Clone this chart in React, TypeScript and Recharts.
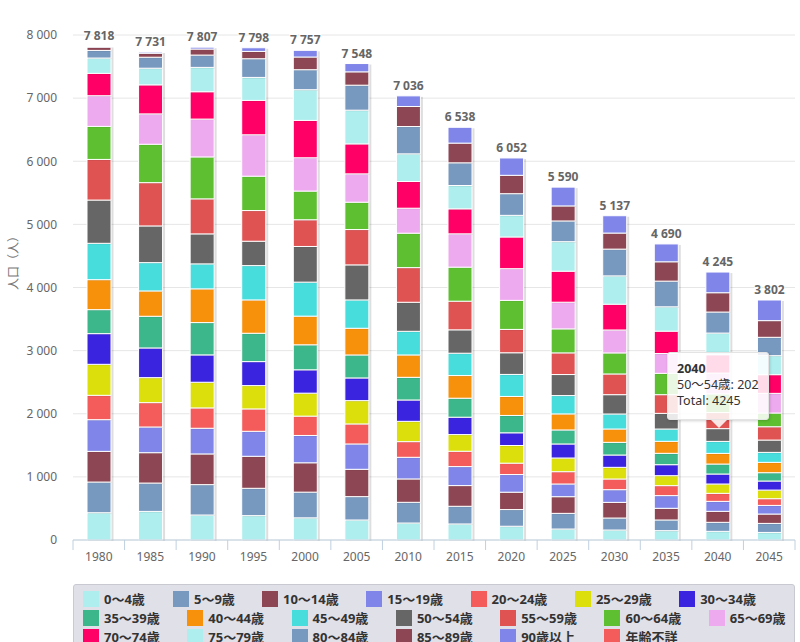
import React from 'react';
import { BarChart, Bar, XAxis, YAxis, CartesianGrid, Tooltip, Legend, LabelList } from 'recharts';

const years = ['1980', '1985', '1990', '1995', '2000', '2005', '2010', '2015', '2020', '2025', '2030', '2035', '2040', '2045'];

const ageGroups = [
  '0～4歳', '5～9歳', '10～14歳', '15～19歳', '20～24歳', '25～29歳', '30～34歳',
  '35～39歳', '40～44歳', '45～49歳', '50～54歳', '55～59歳', '60～64歳', '65～69歳',
  '70～74歳', '75～79歳', '80～84歳', '85～89歳', '90歳以上', '年齢不詳',
];

const colors = [
  '#aeeeee', '#7798bf', '#8d4654', '#8085e9', '#f45b5b', '#dddf0d', '#3b24e0',
  '#3cb68b', '#f7910b', '#48dddd', '#666666', '#df5353', '#5ebf31', '#eeaaee',
  '#ff0066', '#aeeeee', '#7798bf', '#8d4654', '#8085e9', '#f45b5b',
];

const age0to4 = [432, 453, 396, 386, 351, 317, 269, 254, 218, 174, 158, 148, 137, 120];
const age5to9 = [486, 449, 481, 433, 407, 370, 328, 280, 264, 248, 190, 169, 143, 143];
const age10to14 = [486, 481, 486, 507, 465, 433, 370, 328, 275, 264, 248, 185, 174, 148];
const age15to19 = [502, 407, 407, 396, 433, 401, 343, 301, 280, 201, 201, 201, 158, 137];
const age20to24 = [386, 386, 322, 354, 306, 317, 248, 243, 180, 195, 169, 158, 127, 106];
const age25to29 = [491, 396, 407, 370, 364, 370, 322, 264, 280, 217, 185, 158, 148, 137];
const age30to34 = [486, 470, 433, 380, 370, 359, 338, 275, 201, 222, 195, 174, 158, 143];
const age35to39 = [380, 502, 512, 449, 396, 364, 359, 301, 275, 222, 201, 180, 158, 132];
const age40to44 = [475, 401, 534, 528, 454, 423, 354, 359, 301, 254, 211, 190, 169, 164];
const age45to49 = [576, 449, 396, 544, 539, 449, 375, 354, 349, 291, 238, 195, 190, 158];
const age50to54 = [685, 581, 475, 386, 565, 555, 460, 370, 343, 333, 306, 248, 202, 195];
const age55to59 = [644, 686, 555, 486, 423, 560, 549, 454, 370, 343, 328, 296, 255, 211];
const age60to64 = [523, 608, 664, 544, 454, 433, 545, 539, 460, 380, 333, 338, 295, 217];
const age65to69 = [486, 481, 600, 656, 528, 449, 396, 528, 502, 423, 364, 314, 330, 312];
const age70to74 = [354, 460, 433, 545, 592, 475, 423, 396, 502, 491, 408, 354, 291, 296];
const age75to79 = [243, 264, 386, 364, 486, 534, 438, 370, 343, 468, 449, 386, 343, 301];
const age80to84 = [121, 174, 195, 296, 317, 396, 433, 359, 343, 328, 424, 407, 333, 291];
const age85to89 = [52, 63, 95, 116, 201, 211, 317, 312, 291, 238, 254, 306, 306, 264];
const age90plus = [10, 20, 30, 58, 106, 132, 169, 251, 275, 298, 275, 283, 328, 327];
const ageUnknown = [0, 0, 0, 0, 0, 0, 0, 0, 0, 0, 0, 0, 0, 0];

const seriesValues = [
  age0to4, age5to9, age10to14, age15to19, age20to24, age25to29, age30to34,
  age35to39, age40to44, age45to49, age50to54, age55to59, age60to64, age65to69,
  age70to74, age75to79, age80to84, age85to89, age90plus, ageUnknown,
];

const yTicks = [0, 1000, 2000, 3000, 4000, 5000, 6000, 7000, 8000];

const tooltipYearIndex = 12;
const tooltipSeriesIndex = 10;

const data = years.map((year, i) => {
  const row: Record<string, any> = { year };
  let total = 0;
  seriesValues.forEach((vals, s) => {
    row['s' + s] = vals[i];
    total += vals[i];
  });
  row.total = total;
  return row;
});

const fmt = (n: number) => String(n).replace(/\B(?=(\d{3})+(?!\d))/g, ' ');

const CHART_W = 800;
const CHART_H = 642;
const MARGIN = { top: 35, right: 5, bottom: 72, left: 0 };
const Y_AXIS_W = 73;
const PLOT_W = CHART_W - MARGIN.left - MARGIN.right - Y_AXIS_W;
const BAND = PLOT_W / years.length;

const FONT = "'Noto Sans', 'Noto Sans CJK JP', sans-serif";

const XTick = (props: any) => {
  const { x, y, payload, index } = props;
  const left = x - BAND / 2;
  const right = x + BAND / 2;
  return (
    <g>
      <line x1={left} x2={left} y1={y} y2={y + 10} stroke="#c0d0e0" strokeWidth={1} />
      {index === years.length - 1 && (
        <line x1={right} x2={right} y1={y} y2={y + 10} stroke="#c0d0e0" strokeWidth={1} />
      )}
      <text x={x} y={y + 21} textAnchor="middle" fill="#666" fontSize={12}>
        {payload.value}
      </text>
    </g>
  );
};

const Segment = (props: any) => {
  const { x, y, width, height, fill } = props;
  if (!height || height <= 0) return null;
  return (
    <g>
      <rect x={x + 1} y={y + 1} width={width + 1.5} height={height} fill="rgba(0,0,0,0.13)" />
      <rect x={x} y={y} width={width} height={height} fill={fill} stroke="#ffffff" strokeWidth={1} />
    </g>
  );
};

const TotalLabel = (props: any) => {
  const { x, y, width, index } = props;
  const total = data[index].total;
  return (
    <text
      x={x + width / 2}
      y={y - 6}
      textAnchor="middle"
      fontSize={12}
      fontWeight="bold"
      fill="#666"
      stroke="#ffffff"
      strokeWidth={2}
      paintOrder="stroke"
    >
      {fmt(total)}
    </text>
  );
};

const YLabel = () => {
  const x = 13;
  const y = 260;
  return (
    <text x={x} y={y} transform={`rotate(-90 ${x} ${y})`} textAnchor="middle" dominantBaseline="central" fill="#777" fontSize={12}>
      人口（人）
    </text>
  );
};

const legendRows = [
  [0, 1, 2, 3, 4, 5, 6],
  [7, 8, 9, 10, 11, 12, 13],
  [14, 15, 16, 17, 18, 19],
];
const itemWidth = (i: number) => (i === 0 ? 90 : i === 1 ? 89 : 104.3);

const LegendContent = () => (
  <div
    style={{
      width: PLOT_W,
      height: 80,
      boxSizing: 'border-box',
      background: '#e0e0e8',
      border: '1px solid #c9c9d2',
      borderRadius: 3,
      padding: '4px 0 0 9px',
      fontFamily: FONT,
    }}
  >
    {legendRows.map((row, r) => (
      <div key={r} style={{ display: 'flex', height: 19, alignItems: 'center' }}>
        {row.map((i) => (
          <div key={i} style={{ width: itemWidth(i), display: 'flex', alignItems: 'center', flex: 'none' }}>
            <span style={{ width: 16, height: 16, background: colors[i], display: 'inline-block', flex: 'none' }} />
            <span style={{ marginLeft: 5, fontSize: 13, fontWeight: 'bold', color: '#333', whiteSpace: 'nowrap' }}>
              {ageGroups[i]}
            </span>
          </div>
        ))}
      </div>
    ))}
  </div>
);

const TooltipContent = (props: any) => {
  const { active, payload, label } = props;
  if (!active || !payload || !payload.length) return null;
  const key = 's' + tooltipSeriesIndex;
  const item = payload.find((p: any) => p.dataKey === key);
  const total = payload[0].payload.total;
  return (
    <div style={{ position: 'relative', fontFamily: FONT }}>
      <div
        style={{
          background: 'rgba(255,255,255,0.86)',
          border: '1px solid #e4e4e4',
          borderRadius: 3,
          boxShadow: '1px 1px 3px rgba(0,0,0,0.18)',
          padding: '8px 9px 10px 9px',
          width: 102,
          boxSizing: 'border-box',
          color: '#333',
          fontSize: 12.5,
          lineHeight: '16px',
        }}
      >
        <div style={{ fontWeight: 'bold' }}>{label}</div>
        <div style={{ whiteSpace: 'nowrap' }}>
          {ageGroups[tooltipSeriesIndex]}: {item ? item.value : ''}
        </div>
        <div>Total: {total}</div>
      </div>
      <div
        style={{
          position: 'absolute',
          left: 44,
          bottom: -8,
          width: 0,
          height: 0,
          borderLeft: '8px solid transparent',
          borderRight: '8px solid transparent',
          borderTop: '8px solid rgba(255,255,255,0.86)',
        }}
      />
    </div>
  );
};

export default function App() {
  return (
    <div style={{ position: 'absolute', left: 0, top: 0, width: CHART_W, height: CHART_H, fontFamily: FONT, background: '#ffffff' }}>
      <BarChart width={CHART_W} height={CHART_H} data={data} margin={MARGIN}>
        <CartesianGrid vertical={false} stroke="#e6e6e6" />
        <XAxis
          dataKey="year"
          axisLine={{ stroke: '#c0d0e0' }}
          tickLine={false}
          tickSize={0}
          tickMargin={0}
          height={30}
          interval={0}
          tick={<XTick />}
        />
        <YAxis
          domain={[0, 8000]}
          ticks={yTicks}
          interval={0}
          width={Y_AXIS_W}
          axisLine={false}
          tickLine={false}
          tickMargin={10}
          tickFormatter={fmt}
          tick={{ fill: '#666', fontSize: 12 }}
          label={<YLabel />}
        />
        <Tooltip
          content={<TooltipContent />}
          defaultIndex={tooltipYearIndex}
          active={true}
          cursor={false}
          isAnimationActive={false}
          position={{ x: 667, y: 352 }}
          wrapperStyle={{ zIndex: 10 }}
        />
        <Legend
          layout="vertical"
          align="center"
          verticalAlign="middle"
          content={<LegendContent />}
          wrapperStyle={{ position: 'absolute', left: 73, top: 584, width: PLOT_W }}
        />
        {ageGroups.map((name, s) => (
          <Bar
            key={s}
            dataKey={'s' + s}
            name={name}
            stackId="a"
            fill={colors[s]}
            barSize={24}
            isAnimationActive={false}
            shape={<Segment />}
            activeBar={false}
          >
            {s === ageGroups.length - 1 && <LabelList dataKey="total" content={<TotalLabel />} />}
          </Bar>
        ))}
      </BarChart>
    </div>
  );
}
